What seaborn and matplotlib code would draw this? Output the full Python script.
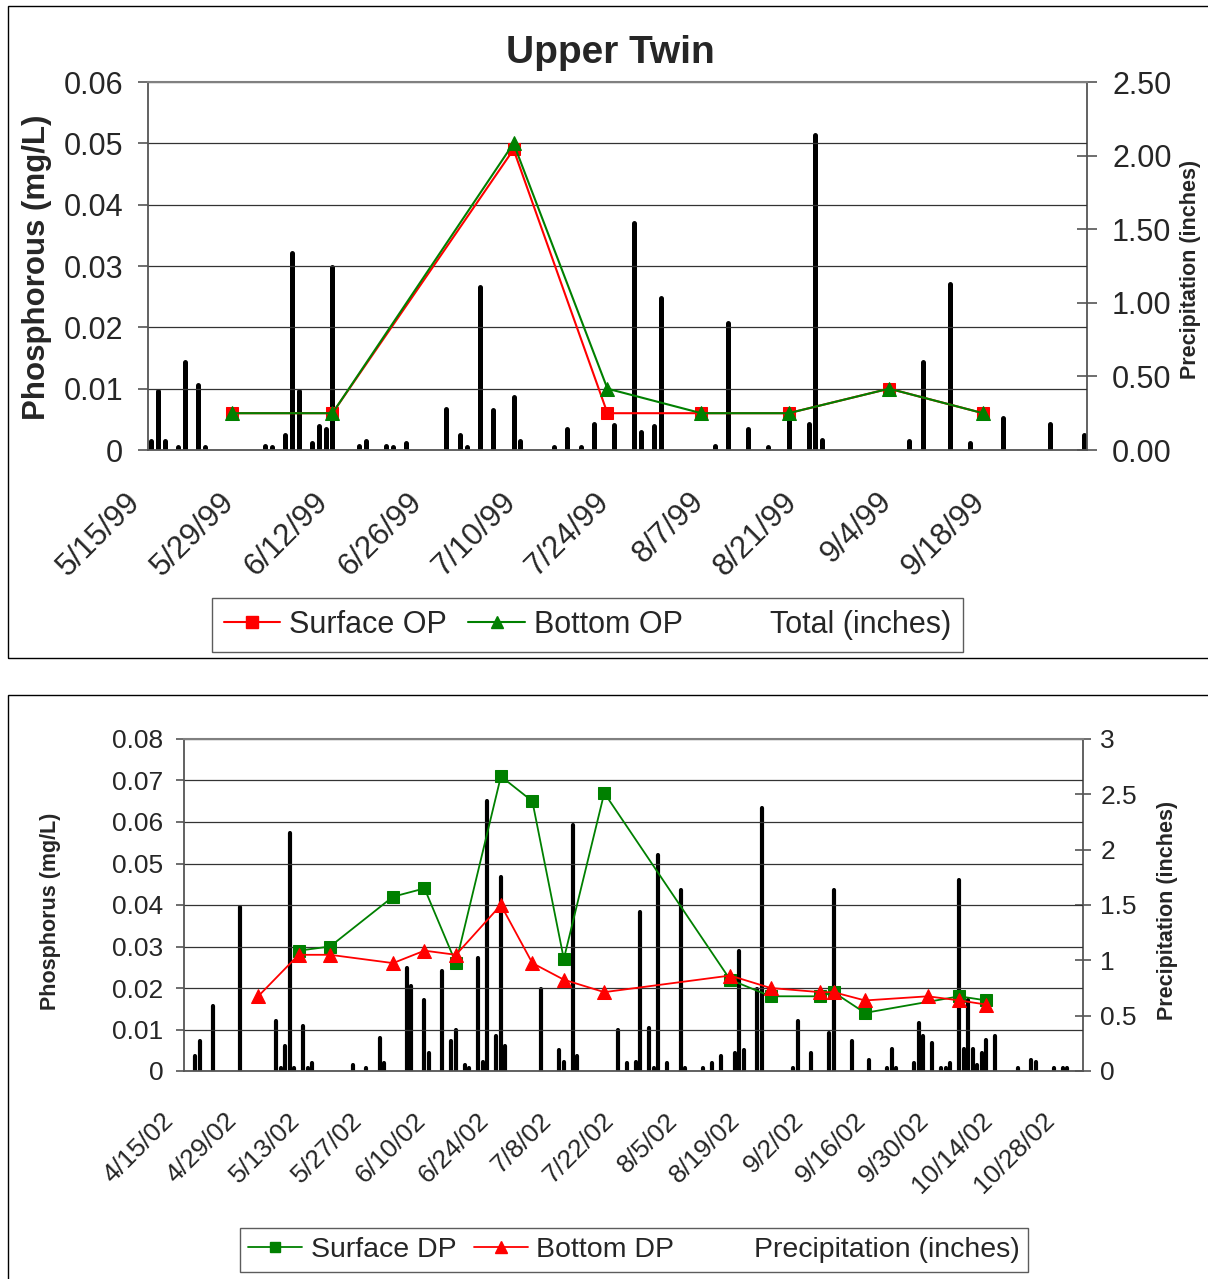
import pandas as pd
import matplotlib
matplotlib.use('Agg')
import matplotlib.pyplot as plt
import matplotlib.patches as mpatches
import matplotlib.transforms as mtransforms
from matplotlib.lines import Line2D
import seaborn as sns

sns.set_style('white')
plt.rcParams['font.family'] = ['Liberation Sans', 'DejaVu Sans']

# ---------------- Upper Twin 1999 ----------------
rain99_dates = ['1999-05-15', '1999-05-16', '1999-05-17', '1999-05-19', '1999-05-20', '1999-05-22',
                '1999-05-23', '1999-06-01', '1999-06-02', '1999-06-04', '1999-06-05', '1999-06-06',
                '1999-06-08', '1999-06-09', '1999-06-10', '1999-06-11', '1999-06-15', '1999-06-16',
                '1999-06-19', '1999-06-20', '1999-06-22', '1999-06-28', '1999-06-30', '1999-07-01',
                '1999-07-03', '1999-07-05', '1999-07-08', '1999-07-09', '1999-07-14', '1999-07-16',
                '1999-07-18', '1999-07-20', '1999-07-23', '1999-07-26', '1999-07-27', '1999-07-29',
                '1999-07-30', '1999-08-07', '1999-08-09', '1999-08-12', '1999-08-15', '1999-08-18',
                '1999-08-21', '1999-08-22', '1999-08-23', '1999-09-05', '1999-09-07', '1999-09-11',
                '1999-09-14', '1999-09-19', '1999-09-26', '1999-10-01']
rain99_inches = [0.06, 0.40, 0.06, 0.02, 0.60, 0.44,
                 0.02, 0.03, 0.02, 0.10, 1.34, 0.40,
                 0.05, 0.16, 0.14, 1.24, 0.03, 0.06,
                 0.03, 0.02, 0.05, 0.28, 0.10, 0.02,
                 1.11, 0.27, 0.36, 0.06, 0.02, 0.14,
                 0.02, 0.18, 0.17, 1.54, 0.12, 0.16,
                 1.03, 0.03, 0.86, 0.14, 0.02, 0.21,
                 0.18, 2.14, 0.07, 0.06, 0.60, 1.13,
                 0.05, 0.22, 0.18, 0.10]

op99_dates = ['1999-05-27', '1999-06-11', '1999-07-08', '1999-07-22',
              '1999-08-05', '1999-08-18', '1999-09-02', '1999-09-16']
surface_op = [0.006, 0.006, 0.049, 0.006, 0.006, 0.006, 0.010, 0.006]
bottom_op = [0.006, 0.006, 0.050, 0.010, 0.006, 0.006, 0.010, 0.006]

# ---------------- 2002 ----------------
rain02_dates = ['2002-04-17', '2002-04-18', '2002-04-21', '2002-04-27', '2002-05-05', '2002-05-06',
                '2002-05-07', '2002-05-08', '2002-05-09', '2002-05-11', '2002-05-12', '2002-05-13',
                '2002-05-22', '2002-05-25', '2002-05-28', '2002-05-29', '2002-06-03', '2002-06-04',
                '2002-06-07', '2002-06-08', '2002-06-11', '2002-06-13', '2002-06-14', '2002-06-16',
                '2002-06-17', '2002-06-19', '2002-06-20', '2002-06-21', '2002-06-23', '2002-06-24',
                '2002-06-25', '2002-07-03', '2002-07-07', '2002-07-08', '2002-07-10', '2002-07-11',
                '2002-07-20', '2002-07-22', '2002-07-24', '2002-07-25', '2002-07-27', '2002-07-28',
                '2002-07-29', '2002-07-31', '2002-08-03', '2002-08-04', '2002-08-08', '2002-08-10',
                '2002-08-12', '2002-08-15', '2002-08-16', '2002-08-17', '2002-08-20', '2002-08-21',
                '2002-08-28', '2002-08-29', '2002-09-01', '2002-09-05', '2002-09-06', '2002-09-10',
                '2002-09-14', '2002-09-18', '2002-09-19', '2002-09-20', '2002-09-24', '2002-09-25',
                '2002-09-26', '2002-09-28', '2002-09-30', '2002-10-01', '2002-10-02', '2002-10-04',
                '2002-10-05', '2002-10-06', '2002-10-07', '2002-10-08', '2002-10-09', '2002-10-10',
                '2002-10-12', '2002-10-17', '2002-10-20', '2002-10-21', '2002-10-25', '2002-10-27',
                '2002-10-28']
rain02_inches = [0.14, 0.27, 0.59, 1.48, 0.45, 0.03,
                 0.23, 2.15, 0.03, 0.41, 0.03, 0.07,
                 0.05, 0.03, 0.30, 0.07, 0.93, 0.77,
                 0.64, 0.16, 0.90, 0.27, 0.37, 0.05,
                 0.03, 1.02, 0.08, 2.44, 0.32, 1.75,
                 0.23, 0.74, 0.19, 0.08, 2.22, 0.14,
                 0.37, 0.07, 0.08, 1.44, 0.39, 0.03,
                 1.95, 0.07, 1.64, 0.03, 0.03, 0.07,
                 0.14, 0.16, 1.08, 0.19, 0.74, 2.38,
                 0.03, 0.45, 0.16, 0.34, 1.64, 0.27,
                 0.10, 0.03, 0.20, 0.03, 0.07, 0.43,
                 0.32, 0.25, 0.03, 0.03, 0.07, 1.73,
                 0.20, 0.64, 0.20, 0.05, 0.16, 0.28,
                 0.32, 0.03, 0.10, 0.08, 0.03, 0.03,
                 0.03]

surface_dp_dates = ['2002-05-10', '2002-05-17', '2002-05-31', '2002-06-07', '2002-06-14', '2002-06-24',
                    '2002-07-01', '2002-07-08', '2002-07-17', '2002-08-14', '2002-08-23', '2002-09-03',
                    '2002-09-06', '2002-09-13', '2002-10-04', '2002-10-10']
surface_dp = [0.029, 0.030, 0.042, 0.044, 0.026, 0.071,
              0.065, 0.027, 0.067, 0.022, 0.018, 0.018,
              0.019, 0.014, 0.018, 0.017]
bottom_dp_dates = ['2002-05-01', '2002-05-10', '2002-05-17', '2002-05-31', '2002-06-07', '2002-06-14',
                   '2002-06-24', '2002-07-01', '2002-07-08', '2002-07-17', '2002-08-14', '2002-08-23',
                   '2002-09-03', '2002-09-06', '2002-09-13', '2002-09-27', '2002-10-04', '2002-10-10']
bottom_dp = [0.018, 0.028, 0.028, 0.026, 0.029, 0.028,
             0.040, 0.026, 0.022, 0.019, 0.023, 0.020,
             0.019, 0.019, 0.017, 0.018, 0.017, 0.016]

W, H = 1208, 1279
fig = plt.figure(figsize=(W / 100, H / 100), dpi=100)
half_day = pd.Timedelta(hours=12)  # Excel puts each day's mark in the middle of its slot
axis_col = '#555555'


def to_dates(lst):
    return pd.to_datetime(lst) + half_day


def date_label(d):
    return f"{d.month}/{d.day}/{d:%y}"


def make_axes(rect_px):
    l, t, r, b = rect_px
    ax = fig.add_axes([l / W, 1 - b / H, (r - l) / W, (b - t) / H])
    ax2 = ax.twinx()
    ax.set_zorder(2)
    ax2.set_zorder(1)
    ax.patch.set_visible(False)
    ax2.patch.set_facecolor('#FFFFCC')
    for s in ['left', 'top', 'bottom']:
        ax2.spines[s].set_visible(False)
    ax.spines['right'].set_visible(False)
    ax.spines['top'].set_color('#808080')
    ax.spines['top'].set_linewidth(1.5)
    ax.spines['left'].set_color(axis_col)
    ax.spines['bottom'].set_color(axis_col)
    ax2.spines['right'].set_color(axis_col)
    for s in ['left', 'bottom']:
        ax.spines[s].set_linewidth(1.3)
    ax2.spines['right'].set_linewidth(1.3)
    ax.yaxis.grid(True, color='#333333', lw=0.9)
    ax.xaxis.grid(False)
    return ax, ax2


def rotate_xlabels(ax, dx_pt):
    offset = mtransforms.ScaledTranslation(dx_pt / 72, 0, fig.dpi_scale_trans)
    for lab in ax.get_xticklabels():
        lab.set_rotation(45)
        lab.set_ha('right')
        lab.set_va('center')
        lab.set_rotation_mode('anchor')
        lab.set_transform(lab.get_transform() + offset)


# ================= top panel =================
fig.add_artist(mpatches.Rectangle((8 / W, 1 - 658 / H), (W + 10 - 8) / W, (658 - 6) / H,
                                  transform=fig.transFigure, fill=False, ec='black', lw=1))
ax, ax2 = make_axes((148, 82, 1087, 450))

bars = ax2.vlines(to_dates(rain99_dates), 0, rain99_inches, color='black', lw=3.6)
bars.set_capstyle('round')

sns.lineplot(x=to_dates(op99_dates), y=surface_op, ax=ax, color='#FF0000', marker='s',
             markersize=9, markeredgecolor='#FF0000', linewidth=1.5, legend=False)
sns.lineplot(x=to_dates(op99_dates), y=bottom_op, ax=ax, color='#008000', marker='^',
             markersize=10, markeredgecolor='#008000', linewidth=1.5, legend=False)

ax.set_ylim(0, 0.06)
ax.set_yticks([0, 0.01, 0.02, 0.03, 0.04, 0.05, 0.06])
ax.set_yticklabels(['0', '0.01', '0.02', '0.03', '0.04', '0.05', '0.06'])
ax2.set_ylim(0, 2.5)
ax2.set_yticks([0, 0.5, 1.0, 1.5, 2.0, 2.5])
ax2.set_yticklabels([f"{v:.2f}" for v in [0, 0.5, 1.0, 1.5, 2.0, 2.5]])

ticks99 = pd.date_range('1999-05-15', '1999-10-02', freq='14D')
ax.set_xlim(ticks99[0], ticks99[-1])
ax.set_xticks(ticks99)
ax.set_xticklabels([date_label(d) for d in ticks99[:-1]] + [''])
ax.set_xlabel('')
ax.tick_params(axis='y', direction='out', length=7, width=1.2, color=axis_col, labelsize=22, pad=11)
ax.tick_params(axis='x', direction='out', length=7, width=1.2, color=axis_col, labelsize=22.5, pad=27)
ax2.tick_params(axis='y', direction='inout', length=14, width=1.2, color=axis_col, labelsize=22, pad=11)
rotate_xlabels(ax, -9)

ax.set_ylabel('Phosphorous (mg/L)', fontsize=22.5, fontweight='bold')
ax.yaxis.set_label_coords(-0.1185, 0.497)
ax.yaxis.label.set_va('center')
ax2.set_ylabel('Precipitation (inches)', fontsize=15.5, fontweight='bold')
ax2.yaxis.set_label_coords(1.1097, 0.49)
ax2.yaxis.label.set_va('center')

fig.text(610 / W, 1 - 53 / H, 'Upper Twin', fontsize=28, fontweight='bold', ha='center', va='center')

handles = [Line2D([], [], color='#FF0000', marker='s', markersize=8, lw=1.5),
           Line2D([], [], color='#008000', marker='^', markersize=9, lw=1.5),
           mpatches.Patch(facecolor='none', edgecolor='none')]
leg = fig.legend(handles, ['Surface OP', 'Bottom OP', 'Total (inches)'], ncol=3, loc='center',
                 bbox_to_anchor=(587.5 / W, 1 - 625 / H), fontsize=22, frameon=True, fancybox=False,
                 edgecolor='#333333', handlelength=1.85, handletextpad=0.3, columnspacing=0.7,
                 borderpad=0.38)
leg.get_frame().set_linewidth(1)

# ================= bottom panel =================
fig.add_artist(mpatches.Rectangle((8 / W, -0.01), (W + 10 - 8) / W, 1 - 695 / H + 0.01,
                                  transform=fig.transFigure, fill=False, ec='black', lw=1))
bx, bx2 = make_axes((184, 739, 1083, 1071))

bars = bx2.vlines(to_dates(rain02_dates), 0, rain02_inches, color='black', lw=3.0)
bars.set_capstyle('round')

sns.lineplot(x=to_dates(surface_dp_dates), y=surface_dp, ax=bx, color='#008000', marker='s',
             markersize=9, markeredgecolor='#008000', linewidth=1.3, legend=False)
sns.lineplot(x=to_dates(bottom_dp_dates), y=bottom_dp, ax=bx, color='#FF0000', marker='^',
             markersize=10, markeredgecolor='#FF0000', linewidth=1.3, legend=False)

bx.set_ylim(0, 0.08)
bx.set_yticks([0, 0.01, 0.02, 0.03, 0.04, 0.05, 0.06, 0.07, 0.08])
bx.set_yticklabels(['0', '0.01', '0.02', '0.03', '0.04', '0.05', '0.06', '0.07', '0.08'])
bx2.set_ylim(0, 3)
bx2.set_yticks([0, 0.5, 1, 1.5, 2, 2.5, 3])
bx2.set_yticklabels(['0', '0.5', '1', '1.5', '2', '2.5', '3'])

ticks02 = pd.date_range('2002-04-15', '2002-10-28', freq='14D')
bx.set_xlim(pd.Timestamp('2002-04-15'), pd.Timestamp('2002-11-01'))
bx.set_xticks(ticks02)
bx.set_xticklabels([date_label(d) for d in ticks02])
bx.set_xlabel('')
bx.tick_params(axis='y', direction='out', length=6, width=1.2, color=axis_col, labelsize=19, pad=9)
bx.tick_params(axis='x', direction='out', length=6, width=1.2, color=axis_col, labelsize=19, pad=27)
bx2.tick_params(axis='y', direction='inout', length=11, width=1.2, color=axis_col, labelsize=19, pad=7)
rotate_xlabels(bx, -10)

bx.set_ylabel('Phosphorus (mg/L)', fontsize=15.5, fontweight='bold')
bx.yaxis.set_label_coords(-0.149, 0.48)
bx.yaxis.label.set_va('center')
bx2.set_ylabel('Precipitation (inches)', fontsize=15.5, fontweight='bold')
bx2.yaxis.set_label_coords(1.094, 0.485)
bx2.yaxis.label.set_va('center')

handles = [Line2D([], [], color='#008000', marker='s', markersize=7, lw=1.3),
           Line2D([], [], color='#FF0000', marker='^', markersize=8, lw=1.3),
           mpatches.Patch(facecolor='none', edgecolor='none')]
leg = fig.legend(handles, ['Surface DP', 'Bottom DP', 'Precipitation (inches)'], ncol=3, loc='center',
                 bbox_to_anchor=(634 / W, 1 - 1250 / H), fontsize=20.5, frameon=True, fancybox=False,
                 edgecolor='#333333', handlelength=1.9, handletextpad=0.3, columnspacing=0.6,
                 borderpad=0.3)
leg.get_frame().set_linewidth(1)

fig.savefig('out.png', dpi=100)
